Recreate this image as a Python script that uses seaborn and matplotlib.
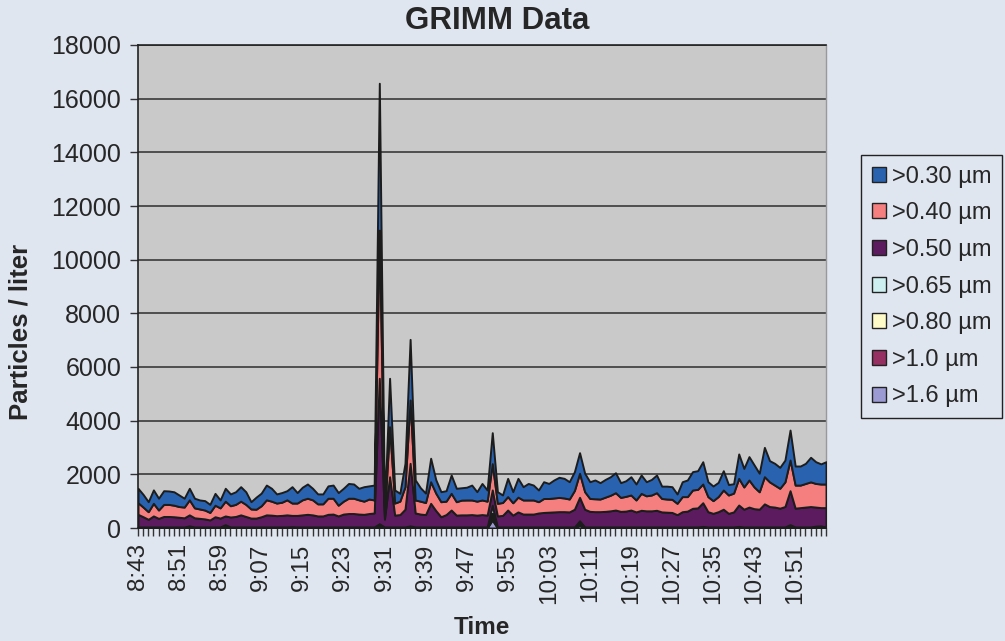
import matplotlib
matplotlib.use("Agg")
import matplotlib.pyplot as plt
from matplotlib.patches import Patch
import seaborn as sns
import pandas as pd
import numpy as np

# ---------------- data ----------------
times = list(pd.date_range("2000-01-01 08:43", "2000-01-01 10:57", freq="min").strftime("%-H:%M"))
tick_labels = ["8:43", "8:51", "8:59", "9:07", "9:15", "9:23", "9:31", "9:39", "9:47",
               "9:55", "10:03", "10:11", "10:19", "10:27", "10:35", "10:43", "10:51"]

s030 = [537,470,372,500,440,510,500,500,430,330,430,360,335,350,300,
        440,295,480,440,470,540,470,270,450,470,550,480,340,360,340,
        610,390,470,530,430,370,370,460,490,470,480,550,530,430,540,
        490,555,5475,120,1805,486,293,870,2260,745,500,350,875,500,373,
        390,682,500,460,475,555,353,615,416,1152,433,280,680,413,700,
        495,615,555,436,625,560,670,750,730,645,700,767,687,625,700,
        610,660,690,744,550,580,680,595,685,525,580,659,460,480,470,
        347,555,620,684,695,830,555,545,530,719,390,350,910,690,870,
        820,690,1093,790,810,780,810,1115,710,710,750,915,810,750,830]

s040 = [433,360,284,470,310,450,450,430,400,400,560,370,350,330,280,
        430,380,550,420,450,510,450,340,330,410,560,520,470,490,560,
        460,460,560,600,560,450,450,600,590,400,480,570,570,530,490,
        540,485,5520,150,1863,450,500,840,2360,485,480,450,805,650,560,
        500,623,500,550,555,545,520,545,520,980,470,480,500,460,550,
        525,525,525,420,520,510,520,530,510,480,700,897,653,480,480,
        470,530,580,646,520,550,560,445,630,560,590,656,500,490,490,
        423,562,540,682,690,697,562,474,562,716,684,700,993,830,1010,
        810,650,1012,920,820,740,920,1145,860,840,880,920,880,880,880]

s050 = [470,380,284,410,320,390,390,380,360,340,410,340,320,300,260,
        380,330,325,370,390,450,390,330,330,380,450,440,420,430,450,
        420,430,450,470,450,410,410,470,480,410,480,500,500,480,470,
        500,520,5420,290,1872,440,460,660,2330,520,480,460,880,610,380,
        460,630,440,450,450,460,440,460,440,570,410,430,630,440,560,
        480,480,480,520,540,550,560,570,570,560,660,873,660,580,570,
        570,580,600,630,580,590,630,560,620,600,600,620,560,550,540,
        457,568,590,694,710,883,568,506,568,660,506,560,797,660,740,
        680,660,860,760,740,700,760,1265,700,720,740,760,710,680,720]

s065 = [20,20,20,20,20,20,20,20,20,20,40,20,20,20,20,
        20,20,60,20,20,20,20,20,20,20,20,20,20,20,20,
        30,20,20,20,20,20,20,20,20,20,20,20,20,20,20,
        20,20,60,20,20,20,20,20,60,20,20,20,20,20,20,
        20,20,20,20,20,20,20,20,20,300,20,20,20,20,20,
        20,20,20,20,20,20,20,20,20,20,20,80,20,20,20,
        20,20,20,20,20,20,20,20,20,20,20,20,20,20,20,
        20,20,20,20,20,40,20,20,20,20,20,20,40,20,20,
        20,20,20,20,20,20,20,60,20,20,20,20,20,60,20]

s080 = [5,5,5,5,5,5,5,5,5,5,5,5,5,5,5,
        5,5,5,5,5,5,5,5,5,5,5,5,5,5,5,
        5,5,5,5,5,5,5,5,5,5,5,5,5,5,5,
        5,5,20,5,5,5,5,5,5,5,5,5,5,5,5,
        5,5,5,5,5,5,5,5,5,100,5,5,5,5,5,
        5,5,5,5,5,5,5,5,5,5,5,30,5,5,5,
        5,5,5,5,5,5,5,5,5,5,5,5,5,5,5,
        5,5,5,5,5,5,5,5,5,5,5,5,5,5,5,
        5,5,5,5,5,5,5,5,5,5,5,5,5,5,5]

s10 = [10,10,10,10,10,10,10,10,10,10,30,10,10,10,10,
       10,10,40,10,10,10,10,10,10,10,10,10,10,10,10,
       10,10,10,10,10,10,10,10,10,10,10,10,10,10,10,
       10,10,40,10,10,10,10,10,10,10,10,10,10,10,10,
       10,10,10,10,10,10,10,10,10,150,10,10,10,10,10,
       10,10,10,10,10,10,10,10,10,10,10,60,10,10,10,
       10,10,10,10,10,10,10,10,10,10,10,10,10,10,10,
       10,10,10,10,10,10,10,10,10,10,10,10,10,10,10,
       10,10,10,10,10,10,10,40,10,10,10,10,40,10,10]

s16 = [5,5,5,5,5,5,5,5,5,5,5,5,5,5,5,
       5,5,20,5,5,5,5,5,5,5,5,5,5,5,5,
       5,5,5,5,5,5,5,5,5,5,5,5,5,5,5,
       5,5,40,5,5,5,5,5,5,5,5,5,5,5,5,
       5,5,5,5,5,5,5,5,5,300,5,5,5,5,5,
       5,5,5,5,5,5,5,5,5,5,5,100,5,5,5,
       5,5,5,5,5,5,5,5,5,5,5,5,5,5,5,
       5,5,5,5,5,5,5,5,5,5,5,5,5,5,5,
       5,5,5,5,5,5,5,20,5,5,5,5,5,5,5]

series_names = [">1.6 µm", ">1.0 µm", ">0.80 µm", ">0.65 µm", ">0.50 µm", ">0.40 µm", ">0.30 µm"]
series_values = [s16, s10, s080, s065, s050, s040, s030]
colors = ["#9B9AD2", "#962F62", "#FFFBC8", "#CDEFF0", "#5C1B5E", "#F47F7E", "#2963AF"]

# ---------------- style ----------------
sns.set_style("white")
plt.rcParams["font.family"] = ["Liberation Sans", "DejaVu Sans"]

bg = "#DFE6F0"
fig = plt.figure(figsize=(10.05, 6.41), dpi=100, facecolor=bg)
ax = fig.add_axes([138/1005, 1-528/641, (826-138)/1005, (528-45)/641])
ax.set_facecolor("#C9C9C9")

x = np.arange(len(times))
ax.stackplot(x, *series_values, colors=colors, edgecolor="#1c1c1c", linewidth=1.4, zorder=3)

ax.set_xlim(0, len(times) - 1)
ax.set_ylim(0, 18000)
ax.set_yticks(np.arange(0, 18001, 2000))
ax.yaxis.grid(True, color="#3a3a3a", linewidth=1.2)
ax.xaxis.grid(False)
ax.set_axisbelow(True)

ax.set_xticks(x, minor=True)
ax.set_xticks([times.index(t) for t in tick_labels])
ax.set_xticklabels(tick_labels, rotation=90, fontsize=17.5)
ax.tick_params(axis="x", which="both", direction="out", length=6, width=1, color="#333", pad=5)
ax.tick_params(axis="y", direction="out", length=6, width=1, color="#333", labelsize=18, pad=6)
ax.tick_params(axis="both", which="both", bottom=True, left=True)

for s in ["left", "bottom", "top"]:
    ax.spines[s].set_color("#222")
    ax.spines[s].set_linewidth(1.2)
ax.spines["right"].set_color("#999999")
ax.spines["right"].set_linewidth(1.0)

fig.text(497/1005, 1-21/641, "GRIMM Data", ha="center", va="center", fontsize=22.5, fontweight="bold")
fig.text(21/1005, 1-332/641, "Particles / liter", ha="center", va="center", rotation=90,
         fontsize=18.5, fontweight="bold")
fig.text(482/1005, 1-628/641, "Time", ha="center", va="center", fontsize=17.5, fontweight="bold")

handles = [Patch(facecolor=c, edgecolor="#222", linewidth=1.0, label=n)
           for n, c in zip(series_names, colors)][::-1]
leg = fig.legend(handles=handles, loc="upper left", bbox_to_anchor=(861/1005, 1-155/641),
                 fontsize=17, frameon=True, fancybox=False, framealpha=1,
                 facecolor=bg, edgecolor="#222", labelspacing=0.62,
                 handlelength=0.6, handleheight=0.6, handletextpad=0.25,
                 borderpad=0.45, borderaxespad=0)
leg.get_frame().set_linewidth(1.0)

fig.savefig("out.png", dpi=100, facecolor=bg)
